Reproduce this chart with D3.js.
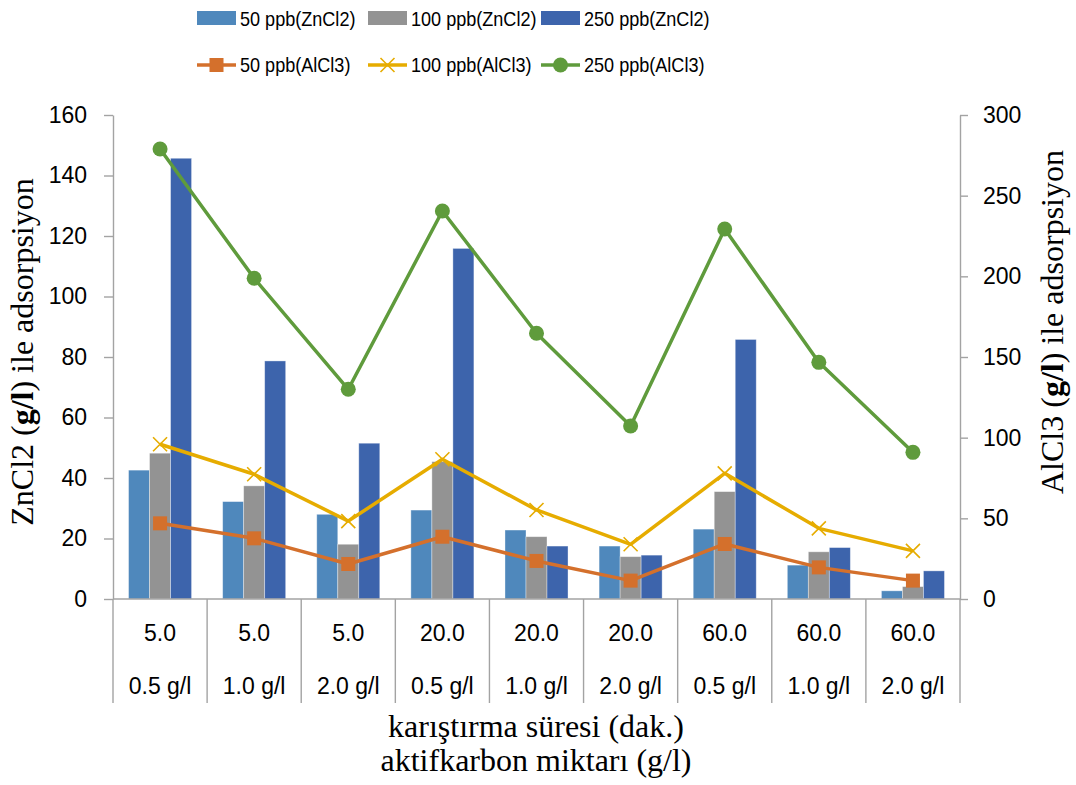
<!DOCTYPE html>
<html>
<head>
<meta charset="utf-8">
<script src="https://cdn.jsdelivr.net/npm/d3@7"></script>
<style>
  body { margin: 0; background: #fff; }
  text { fill: #000; }
</style>
</head>
<body>
<svg id="chart"></svg>
<script>
// Category labels (two rows under the x axis)
const stirTimes = ["5.0", "5.0", "5.0", "20.0", "20.0", "20.0", "60.0", "60.0", "60.0"];
const carbonAmounts = ["0.5 g/l", "1.0 g/l", "2.0 g/l", "0.5 g/l", "1.0 g/l", "2.0 g/l", "0.5 g/l", "1.0 g/l", "2.0 g/l"];

// Bars (left axis)
const zn50 = [42.6, 32.2, 28.0, 29.4, 22.8, 17.5, 23.1, 11.2, 2.7];
const zn100 = [48.2, 37.4, 18.1, 45.4, 20.6, 14.0, 35.5, 15.6, 4.1];
const zn250 = [145.7, 78.7, 51.5, 115.9, 17.5, 14.5, 85.8, 17.0, 9.3];

// Lines (right axis)
const al50 = [46.9, 37.6, 21.7, 38.6, 23.6, 11.4, 34.1, 19.6, 11.4];
const al100 = [95.9, 77.3, 48.3, 86.6, 55.2, 33.9, 77.9, 43.8, 29.8];
const al250 = [278.9, 198.8, 130.0, 240.5, 164.7, 107.2, 229.3, 146.7, 90.9];

const leftTicks = [0, 20, 40, 60, 80, 100, 120, 140, 160];
const rightTicks = [0, 50, 100, 150, 200, 250, 300];

const barSeries = [
    { name: "50 ppb(ZnCl2)", values: zn50, color: "#4F88BC" },
    { name: "100 ppb(ZnCl2)", values: zn100, color: "#939393" },
    { name: "250 ppb(ZnCl2)", values: zn250, color: "#3D64AC" }
];
const lineSeries = [
    { name: "50 ppb(AlCl3)", values: al50, color: "#D4702C", marker: "square" },
    { name: "100 ppb(AlCl3)", values: al100, color: "#E6AC00", marker: "x" },
    { name: "250 ppb(AlCl3)", values: al250, color: "#5F9B3C", marker: "circle" }
];

const W = 1076, H = 785;
const plot = { left: 113, right: 960, top: 115, bottom: 599 };
const axisColor = "#A3A3A3";
const sans = "'Liberation Sans', Arial, sans-serif";
const serif = "'Liberation Serif', 'Times New Roman', serif";

const svg = d3.select("#chart")
    .attr("width", W)
    .attr("height", H)
    .style("display", "block");

const idx = d3.range(stirTimes.length);

// X scales
const x0 = d3.scaleBand()
    .domain(idx)
    .range([plot.left, plot.right])
    .padding(0);

const x1 = d3.scaleBand()
    .domain(barSeries.map(s => s.name))
    .range([0, x0.bandwidth()])
    .paddingInner(0)
    .paddingOuter(0.74);

// Y scales
const yL = d3.scaleLinear().domain([0, 160]).range([plot.bottom, plot.top]);
const yR = d3.scaleLinear().domain([0, 300]).range([plot.bottom, plot.top]);

// Bars
barSeries.forEach(s => {
    svg.append("g")
        .selectAll("rect")
        .data(s.values)
        .enter().append("rect")
        .attr("x", (d, i) => x0(i) + x1(s.name))
        .attr("width", x1.bandwidth())
        .attr("y", d => yL(d))
        .attr("height", d => yL(0) - yL(d))
        .attr("fill", s.color)
        .attr("stroke", "#ffffff")
        .attr("stroke-opacity", 0.45)
        .attr("stroke-width", 0.8);
});

// Left axis
const gL = svg.append("g")
    .attr("transform", "translate(" + plot.left + ",0)")
    .call(d3.axisLeft(yL).tickValues(leftTicks).tickSize(9).tickSizeOuter(0).tickPadding(17));

// Right axis
const gR = svg.append("g")
    .attr("transform", "translate(" + plot.right + ",0)")
    .call(d3.axisRight(yR).tickValues(rightTicks).tickSize(8).tickSizeOuter(0).tickPadding(15));

[gL, gR].forEach(g => {
    g.selectAll("path, line").attr("stroke", axisColor).attr("stroke-width", 1.4);
    g.selectAll("text")
        .style("font-family", sans)
        .style("font-size", "23px")
        .attr("fill", "#000");
});

// X axis line and category separators
svg.append("line")
    .attr("x1", plot.left).attr("x2", plot.right)
    .attr("y1", plot.bottom).attr("y2", plot.bottom)
    .attr("stroke", axisColor).attr("stroke-width", 1.4);

const bounds = idx.map(i => x0(i)).concat([plot.right]);
svg.append("g")
    .selectAll("line")
    .data(bounds)
    .enter().append("line")
    .attr("x1", d => d).attr("x2", d => d)
    .attr("y1", plot.bottom).attr("y2", plot.bottom + 104)
    .attr("stroke", axisColor).attr("stroke-width", 1.4);

const catLabels = svg.append("g")
    .style("font-family", sans)
    .style("font-size", "23px")
    .attr("text-anchor", "middle");

catLabels.selectAll(".row1")
    .data(stirTimes)
    .enter().append("text")
    .attr("class", "row1")
    .attr("x", (d, i) => x0(i) + x0.bandwidth() / 2)
    .attr("y", 641)
    .text(d => d);

catLabels.selectAll(".row2")
    .data(carbonAmounts)
    .enter().append("text")
    .attr("class", "row2")
    .attr("x", (d, i) => x0(i) + x0.bandwidth() / 2)
    .attr("y", 694)
    .text(d => d);

// Lines with markers
const cx = i => x0(i) + x0.bandwidth() / 2;

function drawMarker(g, type, color, x, y) {
    if (type === "square") {
        g.append("rect")
            .attr("x", x - 7).attr("y", y - 7)
            .attr("width", 14).attr("height", 14)
            .attr("fill", color);
    } else if (type === "circle") {
        g.append("circle")
            .attr("cx", x).attr("cy", y).attr("r", 7.5)
            .attr("fill", color);
    } else {
        g.append("path")
            .attr("d", "M" + (x - 7) + "," + (y - 7) + "L" + (x + 7) + "," + (y + 7) +
                "M" + (x - 7) + "," + (y + 7) + "L" + (x + 7) + "," + (y - 7))
            .attr("stroke", color)
            .attr("stroke-width", 1.6)
            .attr("fill", "none");
    }
}

const line = d3.line()
    .x((d, i) => cx(i))
    .y(d => yR(d));

lineSeries.forEach(s => {
    const g = svg.append("g");
    g.append("path")
        .datum(s.values)
        .attr("d", line)
        .attr("fill", "none")
        .attr("stroke", s.color)
        .attr("stroke-width", 3.5)
        .attr("stroke-linejoin", "round");
    s.values.forEach((v, i) => drawMarker(g, s.marker, s.color, cx(i), yR(v)));
});

// Legend (text squeezed a bit to mimic the narrow Calibri look)
const legendX = [197, 368, 541];
const legend = svg.append("g")
    .style("font-family", sans)
    .style("font-size", "21px");

function legendText(x, y, label) {
    const t = legend.append("text").attr("x", x).attr("y", y).text(label);
    const len = t.node().getComputedTextLength();
    t.attr("textLength", len * 0.86).attr("lengthAdjust", "spacingAndGlyphs");
}

barSeries.forEach((s, i) => {
    legend.append("rect")
        .attr("x", legendX[i]).attr("y", 11)
        .attr("width", 39).attr("height", 14)
        .attr("fill", s.color);
    legendText(legendX[i] + 43, 26, s.name);
});

lineSeries.forEach((s, i) => {
    const g = legend.append("g");
    g.append("line")
        .attr("x1", legendX[i]).attr("x2", legendX[i] + 39)
        .attr("y1", 65).attr("y2", 65)
        .attr("stroke", s.color).attr("stroke-width", 3.5);
    drawMarker(g, s.marker, s.color, legendX[i] + 19.5, 65);
    legendText(legendX[i] + 43, 72, s.name);
});

// Axis titles
const leftTitle = svg.append("text")
    .attr("transform", "translate(33," + ((plot.top + plot.bottom) / 2 - 5) + ") rotate(-90)")
    .attr("text-anchor", "middle")
    .style("font-family", serif)
    .style("font-size", "32px");
leftTitle.append("tspan").text("ZnCl2 (");
leftTitle.append("tspan").style("font-weight", "bold").text("g/l");
leftTitle.append("tspan").text(") ile adsorpsiyon");

const rightTitle = svg.append("text")
    .attr("transform", "translate(1063," + ((plot.top + plot.bottom) / 2 - 35) + ") rotate(-90)")
    .attr("text-anchor", "middle")
    .style("font-family", serif)
    .style("font-size", "32px");
rightTitle.append("tspan").text("AlCl3 (");
rightTitle.append("tspan").style("font-weight", "bold").text("g/l");
rightTitle.append("tspan").text(") ile adsorpsiyon");

svg.append("text")
    .attr("x", 536).attr("y", 737)
    .attr("text-anchor", "middle")
    .style("font-family", serif)
    .style("font-size", "32px")
    .text("karıştırma süresi (dak.)");

svg.append("text")
    .attr("x", 536).attr("y", 771)
    .attr("text-anchor", "middle")
    .style("font-family", serif)
    .style("font-size", "32px")
    .text("aktifkarbon miktarı (g/l)");
</script>
</body>
</html>
